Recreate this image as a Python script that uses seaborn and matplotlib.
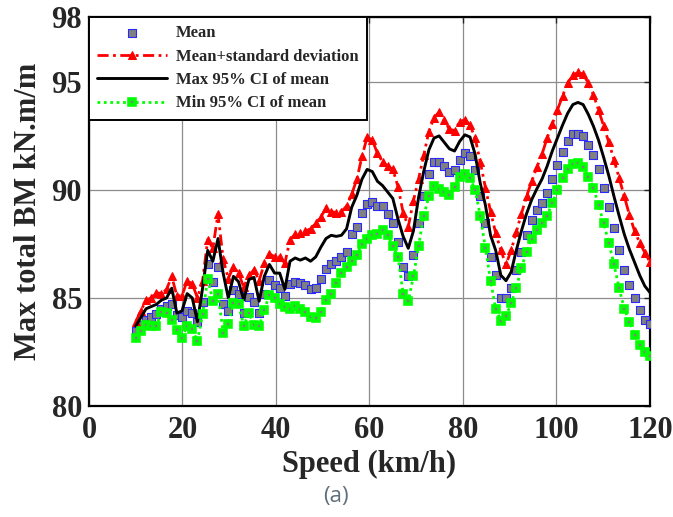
import matplotlib
matplotlib.use("Agg")
import matplotlib.pyplot as plt
import seaborn as sns

# Speed grid (km/h), one sample every 1.1 km/h from 10 to 120
speed = [10.0, 11.1, 12.2, 13.3, 14.4, 15.5, 16.6, 17.7, 18.8, 19.9,
         21.0, 22.1, 23.2, 24.3, 25.4, 26.5, 27.6, 28.7, 29.8, 30.9,
         32.0, 33.1, 34.2, 35.3, 36.4, 37.5, 38.6, 39.7, 40.8, 41.9,
         43.0, 44.1, 45.2, 46.3, 47.4, 48.5, 49.6, 50.7, 51.8, 52.9,
         54.0, 55.1, 56.2, 57.3, 58.4, 59.5, 60.6, 61.7, 62.8, 63.9,
         65.0, 66.1, 67.2, 68.3, 69.4, 70.5, 71.6, 72.7, 73.8, 74.9,
         76.0, 77.1, 78.2, 79.3, 80.4, 81.5, 82.6, 83.7, 84.8, 85.9,
         87.0, 88.1, 89.2, 90.3, 91.4, 92.5, 93.6, 94.7, 95.8, 96.9,
         98.0, 99.1, 100.2, 101.3, 102.4, 103.5, 104.6, 105.7, 106.8, 107.9,
         109.0, 110.1, 111.2, 112.3, 113.4, 114.5, 115.6, 116.7, 117.8, 118.9,
         120.0]

mean_bm = [83.45, 83.75, 84.0, 84.1, 84.25, 84.5, 84.65, 84.7, 84.2, 84.1,
           84.4, 84.3, 83.9, 84.8, 86.55, 85.75, 86.45, 84.7, 84.4, 85.35,
           85.2, 84.3, 85.05, 84.8, 84.3, 85.2, 85.85, 85.6, 85.45, 85.1,
           85.65, 85.75, 85.7, 85.6, 85.4, 85.45, 85.9, 86.35, 86.55, 86.7,
           86.9, 87.15, 87.95, 88.3, 88.95, 89.35, 89.45, 89.25, 89.25, 88.9,
           88.45, 87.6, 86.45, 86.0, 87.0, 88.45, 89.7, 90.75, 91.3, 91.3,
           91.1, 90.85, 90.9, 91.4, 91.7, 91.55, 90.9, 89.7, 88.45, 86.9,
           86.05, 85.0, 85.0, 85.45, 86.3, 87.15, 87.9, 88.6, 89.05, 89.4,
           89.85, 90.5, 91.15, 91.75, 92.25, 92.6, 92.6, 92.5, 92.1, 91.6,
           90.95, 90.1, 89.2, 88.25, 87.2, 86.3, 85.6, 85.0, 84.45, 84.0,
           83.8]

mean_plus_sd = [83.9, 84.4, 84.9, 85.0, 85.25, 85.2, 85.4, 86.0, 85.1, 85.1,
                85.8, 85.65, 85.0, 85.8, 87.7, 87.3, 88.9, 86.8, 85.9, 86.45,
                86.15, 85.5, 86.05, 86.3, 85.8, 86.6, 87.05, 86.9, 86.9, 86.6,
                87.7, 87.95, 88.0, 88.1, 88.2, 88.45, 88.75, 89.15, 89.0, 88.95,
                89.0, 89.25, 89.8, 90.5, 91.55, 92.45, 92.3, 91.7, 91.3, 91.1,
                90.95, 90.15, 88.95, 88.3, 89.5, 90.5, 91.6, 92.7, 93.35, 93.6,
                93.25, 92.8, 92.75, 93.15, 93.25, 93.0, 92.4, 91.3, 90.1, 89.0,
                88.0, 87.2, 86.55, 87.2, 88.05, 88.9, 89.7, 90.4, 91.05, 91.65,
                92.4, 93.05, 93.7, 94.35, 94.95, 95.3, 95.45, 95.35, 94.95, 94.4,
                93.7, 92.95, 92.2, 91.4, 90.55, 89.7, 88.85, 88.1, 87.55, 87.1,
                86.65]

max_ci = [83.7, 84.1, 84.5, 84.6, 84.7, 84.9, 85.0, 85.45, 84.3, 84.4,
          85.2, 85.0, 83.9, 85.45, 87.2, 86.7, 87.75, 86.15, 85.0, 86.0,
          85.75, 84.9, 85.85, 85.95, 84.85, 86.0, 86.55, 86.15, 86.15, 85.4,
          86.7, 86.85, 86.75, 86.85, 86.7, 86.9, 87.35, 87.75, 87.9, 87.85,
          87.9, 88.2, 89.2, 89.75, 90.5, 90.95, 90.85, 90.4, 90.2, 89.9,
          89.6, 88.65, 87.85, 87.3, 88.1, 89.65, 90.85, 91.85, 92.4, 92.5,
          92.2, 91.9, 91.8, 92.25, 92.55, 92.45, 91.65, 90.3, 89.3, 87.9,
          87.2, 86.05, 85.8, 86.2, 87.2, 88.1, 88.9, 89.55, 90.05, 90.5,
          91.1, 91.8, 92.4, 93.0, 93.55, 93.95, 94.05, 93.95, 93.5, 92.95,
          92.3, 91.5, 90.65, 89.7, 88.8, 87.95, 87.25, 86.65, 86.05, 85.55,
          85.25]

min_ci = [83.15, 83.45, 83.75, 83.7, 83.7, 84.35, 84.3, 84.0, 83.5, 83.15,
          83.7, 83.55, 83.0, 84.25, 85.9, 84.85, 85.2, 83.4, 83.8, 84.75,
          84.7, 83.7, 84.3, 83.75, 83.7, 84.45, 85.15, 85.0, 84.7, 84.6,
          84.5, 84.65, 84.5, 84.35, 84.1, 84.05, 84.35, 84.9, 85.2, 85.7,
          86.15, 86.45, 86.7, 87.0, 87.5, 87.75, 87.9, 87.95, 88.15, 87.9,
          87.4, 86.9, 85.2, 84.85, 86.0, 87.4, 88.8, 89.7, 90.2, 90.05,
          89.9, 89.75, 90.15, 90.6, 90.75, 90.55, 90.0, 88.8, 87.3, 85.8,
          84.5, 83.95, 84.15, 84.75, 85.45, 86.4, 87.15, 87.75, 88.15, 88.45,
          88.8, 89.4, 90.0, 90.55, 90.95, 91.2, 91.25, 91.05, 90.6, 90.1,
          89.3, 88.45, 87.55, 86.55, 85.45, 84.5, 83.9, 83.3, 82.8, 82.5,
          82.3]

x_ticks = [0, 20, 40, 60, 80, 100, 120]
y_ticks = [80, 85, 90, 95, 98]

sns.set_style("white")
plt.rcParams["font.family"] = ["Liberation Serif", "DejaVu Serif"]
plt.rcParams["font.weight"] = "bold"
plt.rcParams["axes.labelweight"] = "bold"

fig = plt.figure(figsize=(6.73, 5.17), dpi=100)
ax = fig.add_axes([0.1322, 0.2147, 0.8336, 0.7523])

sns.scatterplot(x=speed, y=mean_bm, marker="s", s=30, color="#808080",
                edgecolor="#2a2aff", linewidth=0.8, label="Mean", ax=ax, zorder=3)
sns.lineplot(x=speed, y=mean_plus_sd, color="red", linewidth=2,
             linestyle=(0, (4, 1.6, 1, 1.6)), marker="^", markersize=6,
             markeredgecolor="red", markerfacecolor="red",
             label="Mean+standard deviation", ax=ax, zorder=3)
sns.lineplot(x=speed, y=max_ci, color="black", linewidth=2.1,
             label="Max 95% CI of mean", ax=ax, zorder=4)
sns.lineplot(x=speed, y=min_ci, color="#00ff00", linewidth=2,
             linestyle=(0, (1, 1.3)), marker="s", markersize=4.8,
             markeredgewidth=2.6, markeredgecolor="#00ff00",
             markerfacecolor="#808080",
             label="Min 95% CI of mean", ax=ax, zorder=5)

ax.set_xlim(0, 120)
ax.set_ylim(80, 98)
ax.set_xticks(x_ticks)
ax.set_yticks(y_ticks)
ax.tick_params(direction="in", length=4, width=1, top=True, right=True,
               labelsize=22)
ax.tick_params(axis="x", pad=7)
ax.tick_params(axis="y", pad=5)
for lbl in ax.get_xticklabels() + ax.get_yticklabels():
    lbl.set_fontweight("bold")

ax.grid(True, color="#8c8c8c", linestyle="-", linewidth=0.9)
for sp in ax.spines.values():
    sp.set_linewidth(1.6)
    sp.set_color("black")

ax.set_xlabel("Speed (km/h)", fontsize=22, labelpad=4)
ax.set_ylabel("Max total BM kN.m/m", fontsize=22, labelpad=6)

leg = ax.legend(loc="upper left", bbox_to_anchor=(0, 1), borderaxespad=0,
                fancybox=False, framealpha=1, edgecolor="black",
                prop={"size": 12, "weight": "bold"}, handlelength=4.2,
                handletextpad=0.5, labelspacing=0.44, borderpad=0.5,
                numpoints=1, scatterpoints=1)
leg.get_frame().set_linewidth(1.4)
leg.set_zorder(10)

fig.text(0.499, 0.04, "(a)", ha="center", va="center", fontsize=16,
         color="#5f6f7d", family=["Open Sans", "DejaVu Sans"], weight="normal")

fig.savefig("out.png", dpi=100)
plt.close(fig)
